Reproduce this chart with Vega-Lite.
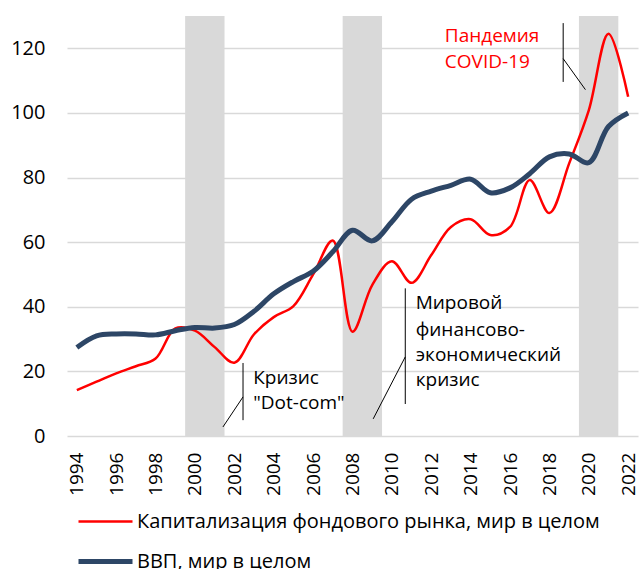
{
  "$schema": "https://vega.github.io/schema/vega-lite/v6.json",
  "width": 571,
  "height": 420,
  "autosize": {"type": "none"},
  "padding": {"left": 67, "top": 16, "right": 1, "bottom": 133},
  "config": {
    "font": "Open Sans",
    "view": {"stroke": null},
    "axis": {"labelColor": "#000000", "labelFontSize": 20, "domain": false, "ticks": false}
  },
  "datasets": {
    "bands": [
      {"start": 1999.5, "end": 2001.5},
      {"start": 2007.5, "end": 2009.5},
      {"start": 2019.5, "end": 2021.5}
    ],
    "callouts": [
      {"xa": 2002.44, "ya": 22.6, "xb": 2002.44, "yb": 4.9},
      {"xa": 2002.44, "ya": 12.1, "xb": 2001.42, "yb": 2.8},
      {"xa": 2010.68, "ya": 45.7, "xb": 2010.68, "yb": 9.9},
      {"xa": 2010.68, "ya": 24.5, "xb": 2009.05, "yb": 5.3},
      {"xa": 2018.7, "ya": 127.8, "xb": 2018.7, "yb": 109.6},
      {"xa": 2018.7, "ya": 116.8, "xb": 2019.83, "yb": 107.2}
    ],
    "series": [
      {"year": 1994, "series": "Капитализация фондового рынка, мир в целом", "value": 14.2},
      {"year": 1995, "series": "Капитализация фондового рынка, мир в целом", "value": 16.8},
      {"year": 1996, "series": "Капитализация фондового рынка, мир в целом", "value": 19.4},
      {"year": 1997, "series": "Капитализация фондового рынка, мир в целом", "value": 21.6},
      {"year": 1998, "series": "Капитализация фондового рынка, мир в целом", "value": 24.0},
      {"year": 1999, "series": "Капитализация фондового рынка, мир в целом", "value": 33.3},
      {"year": 2000, "series": "Капитализация фондового рынка, мир в целом", "value": 32.6},
      {"year": 2001, "series": "Капитализация фондового рынка, мир в целом", "value": 27.5},
      {"year": 2002, "series": "Капитализация фондового рынка, мир в целом", "value": 22.7},
      {"year": 2003, "series": "Капитализация фондового рынка, мир в целом", "value": 31.5},
      {"year": 2004, "series": "Капитализация фондового рынка, мир в целом", "value": 36.8},
      {"year": 2005, "series": "Капитализация фондового рынка, мир в целом", "value": 40.2},
      {"year": 2006, "series": "Капитализация фондового рынка, мир в целом", "value": 50.0},
      {"year": 2007, "series": "Капитализация фондового рынка, мир в целом", "value": 60.5},
      {"year": 2008, "series": "Капитализация фондового рынка, мир в целом", "value": 32.3},
      {"year": 2009, "series": "Капитализация фондового рынка, мир в целом", "value": 46.7},
      {"year": 2010, "series": "Капитализация фондового рынка, мир в целом", "value": 54.1},
      {"year": 2011, "series": "Капитализация фондового рынка, мир в целом", "value": 47.4},
      {"year": 2012, "series": "Капитализация фондового рынка, мир в целом", "value": 56.0},
      {"year": 2013, "series": "Капитализация фондового рынка, мир в целом", "value": 64.7},
      {"year": 2014, "series": "Капитализация фондового рынка, мир в целом", "value": 67.1},
      {"year": 2015, "series": "Капитализация фондового рынка, мир в целом", "value": 62.2},
      {"year": 2016, "series": "Капитализация фондового рынка, мир в целом", "value": 64.7},
      {"year": 2017, "series": "Капитализация фондового рынка, мир в целом", "value": 79.2},
      {"year": 2018, "series": "Капитализация фондового рынка, мир в целом", "value": 69.0},
      {"year": 2019, "series": "Капитализация фондового рынка, мир в целом", "value": 84.3},
      {"year": 2020, "series": "Капитализация фондового рынка, мир в целом", "value": 100.8},
      {"year": 2021, "series": "Капитализация фондового рынка, мир в целом", "value": 124.5},
      {"year": 2022, "series": "Капитализация фондового рынка, мир в целом", "value": 105.0},
      {"year": 1994, "series": "ВВП, мир в целом", "value": 27.4},
      {"year": 1995, "series": "ВВП, мир в целом", "value": 31.0},
      {"year": 1996, "series": "ВВП, мир в целом", "value": 31.6},
      {"year": 1997, "series": "ВВП, мир в целом", "value": 31.6},
      {"year": 1998, "series": "ВВП, мир в целом", "value": 31.3},
      {"year": 1999, "series": "ВВП, мир в целом", "value": 32.6},
      {"year": 2000, "series": "ВВП, мир в целом", "value": 33.6},
      {"year": 2001, "series": "ВВП, мир в целом", "value": 33.4},
      {"year": 2002, "series": "ВВП, мир в целом", "value": 34.5},
      {"year": 2003, "series": "ВВП, мир в целом", "value": 38.6},
      {"year": 2004, "series": "ВВП, мир в целом", "value": 44.0},
      {"year": 2005, "series": "ВВП, мир в целом", "value": 47.8},
      {"year": 2006, "series": "ВВП, мир в целом", "value": 51.0},
      {"year": 2007, "series": "ВВП, мир в целом", "value": 57.0},
      {"year": 2008, "series": "ВВП, мир в целом", "value": 63.7},
      {"year": 2009, "series": "ВВП, мир в целом", "value": 60.4},
      {"year": 2010, "series": "ВВП, мир в целом", "value": 66.3},
      {"year": 2011, "series": "ВВП, мир в целом", "value": 73.3},
      {"year": 2012, "series": "ВВП, мир в целом", "value": 75.8},
      {"year": 2013, "series": "ВВП, мир в целом", "value": 77.6},
      {"year": 2014, "series": "ВВП, мир в целом", "value": 79.5},
      {"year": 2015, "series": "ВВП, мир в целом", "value": 75.3},
      {"year": 2016, "series": "ВВП, мир в целом", "value": 76.8},
      {"year": 2017, "series": "ВВП, мир в целом", "value": 81.2},
      {"year": 2018, "series": "ВВП, мир в целом", "value": 86.4},
      {"year": 2019, "series": "ВВП, мир в целом", "value": 87.3},
      {"year": 2020, "series": "ВВП, мир в целом", "value": 84.6},
      {"year": 2021, "series": "ВВП, мир в целом", "value": 95.8},
      {"year": 2022, "series": "ВВП, мир в целом", "value": 100.0}
    ],
    "redNotes": [
      {"x": 2012.69, "y": 123.7, "label": "Пандемия"},
      {"x": 2012.69, "y": 115.7, "label": "COVID-19"}
    ],
    "blackNotes": [
      {"x": 2002.96, "y": 17.9, "label": "Кризис"},
      {"x": 2002.96, "y": 10.2, "label": "\"Dot-com\""},
      {"x": 2011.21, "y": 41.1, "label": "Мировой"},
      {"x": 2011.21, "y": 32.8, "label": "финансово-"},
      {"x": 2011.21, "y": 25.1, "label": "экономический"},
      {"x": 2011.21, "y": 17.3, "label": "кризис"}
    ]
  },
  "layer": [
    {
      "data": {"name": "bands"},
      "mark": {"type": "rect", "color": "#d9d9d9"},
      "encoding": {
        "x": {"field": "start", "type": "quantitative", "title": null,
              "scale": {"domain": [1993.5, 2022.5], "nice": false, "zero": false},
              "axis": {"values": [1994,1996,1998,2000,2002,2004,2006,2008,2010,2012,2014,2016,2018,2020,2022],
                       "format": "d", "labelAngle": -90, "labelPadding": 16, "labelFontSize": 19, "grid": false, "labelBaseline": "middle", "labelAlign": "right"}},
        "x2": {"field": "end"},
        "y": {"datum": 0, "type": "quantitative", "title": null,
              "scale": {"domain": [0, 130], "nice": false},
              "axis": {"values": [0,20,40,60,80,100,120], "grid": true, "gridColor": "#d9d9d9", "gridWidth": 1.5, "labelPadding": 22}},
        "y2": {"datum": 130}
      }
    },
    {
      "data": {"name": "callouts"},
      "mark": {"type": "rule", "color": "#000000", "strokeWidth": 1},
      "encoding": {
        "x": {"field": "xa", "type": "quantitative", "title": null},
        "y": {"field": "ya", "type": "quantitative", "title": null},
        "x2": {"field": "xb"},
        "y2": {"field": "yb"}
      }
    },
    {
      "data": {"name": "series"},
      "mark": {"type": "line", "interpolate": "catmull-rom"},
      "encoding": {
        "x": {"field": "year", "type": "quantitative", "title": null},
        "y": {"field": "value", "type": "quantitative", "title": null},
        "color": {"field": "series", "type": "nominal",
                  "scale": {"domain": ["Капитализация фондового рынка, мир в целом", "ВВП, мир в целом"], "range": ["#ff0000", "#2d4666"]},
                  "legend": {"title": null, "orient": "none", "legendX": 9, "legendY": 477, "direction": "vertical",
                             "symbolType": "stroke", "symbolSize": 2916, "labelFontSize": 20, "labelColor": "#000000",
                             "labelOffset": 2, "rowPadding": -18, "labelLimit": 600}},
        "strokeWidth": {"field": "series", "type": "nominal",
                  "scale": {"domain": ["Капитализация фондового рынка, мир в целом", "ВВП, мир в целом"], "range": [2.5, 5]},
                  "legend": {"title": null, "orient": "none", "legendX": 9, "legendY": 477, "direction": "vertical",
                             "symbolType": "stroke", "symbolSize": 2916, "labelFontSize": 20, "labelColor": "#000000",
                             "labelOffset": 2, "rowPadding": -18, "labelLimit": 600}},
        "order": {"field": "year", "type": "quantitative"}
      }
    },
    {
      "data": {"name": "redNotes"},
      "mark": {"type": "text", "color": "#ff0000", "align": "left", "baseline": "middle", "fontSize": 19},
      "encoding": {
        "x": {"field": "x", "type": "quantitative", "title": null},
        "y": {"field": "y", "type": "quantitative", "title": null},
        "text": {"field": "label"}
      }
    },
    {
      "data": {"name": "blackNotes"},
      "mark": {"type": "text", "color": "#000000", "align": "left", "baseline": "middle", "fontSize": 19},
      "encoding": {
        "x": {"field": "x", "type": "quantitative", "title": null},
        "y": {"field": "y", "type": "quantitative", "title": null},
        "text": {"field": "label"}
      }
    }
  ]
}
